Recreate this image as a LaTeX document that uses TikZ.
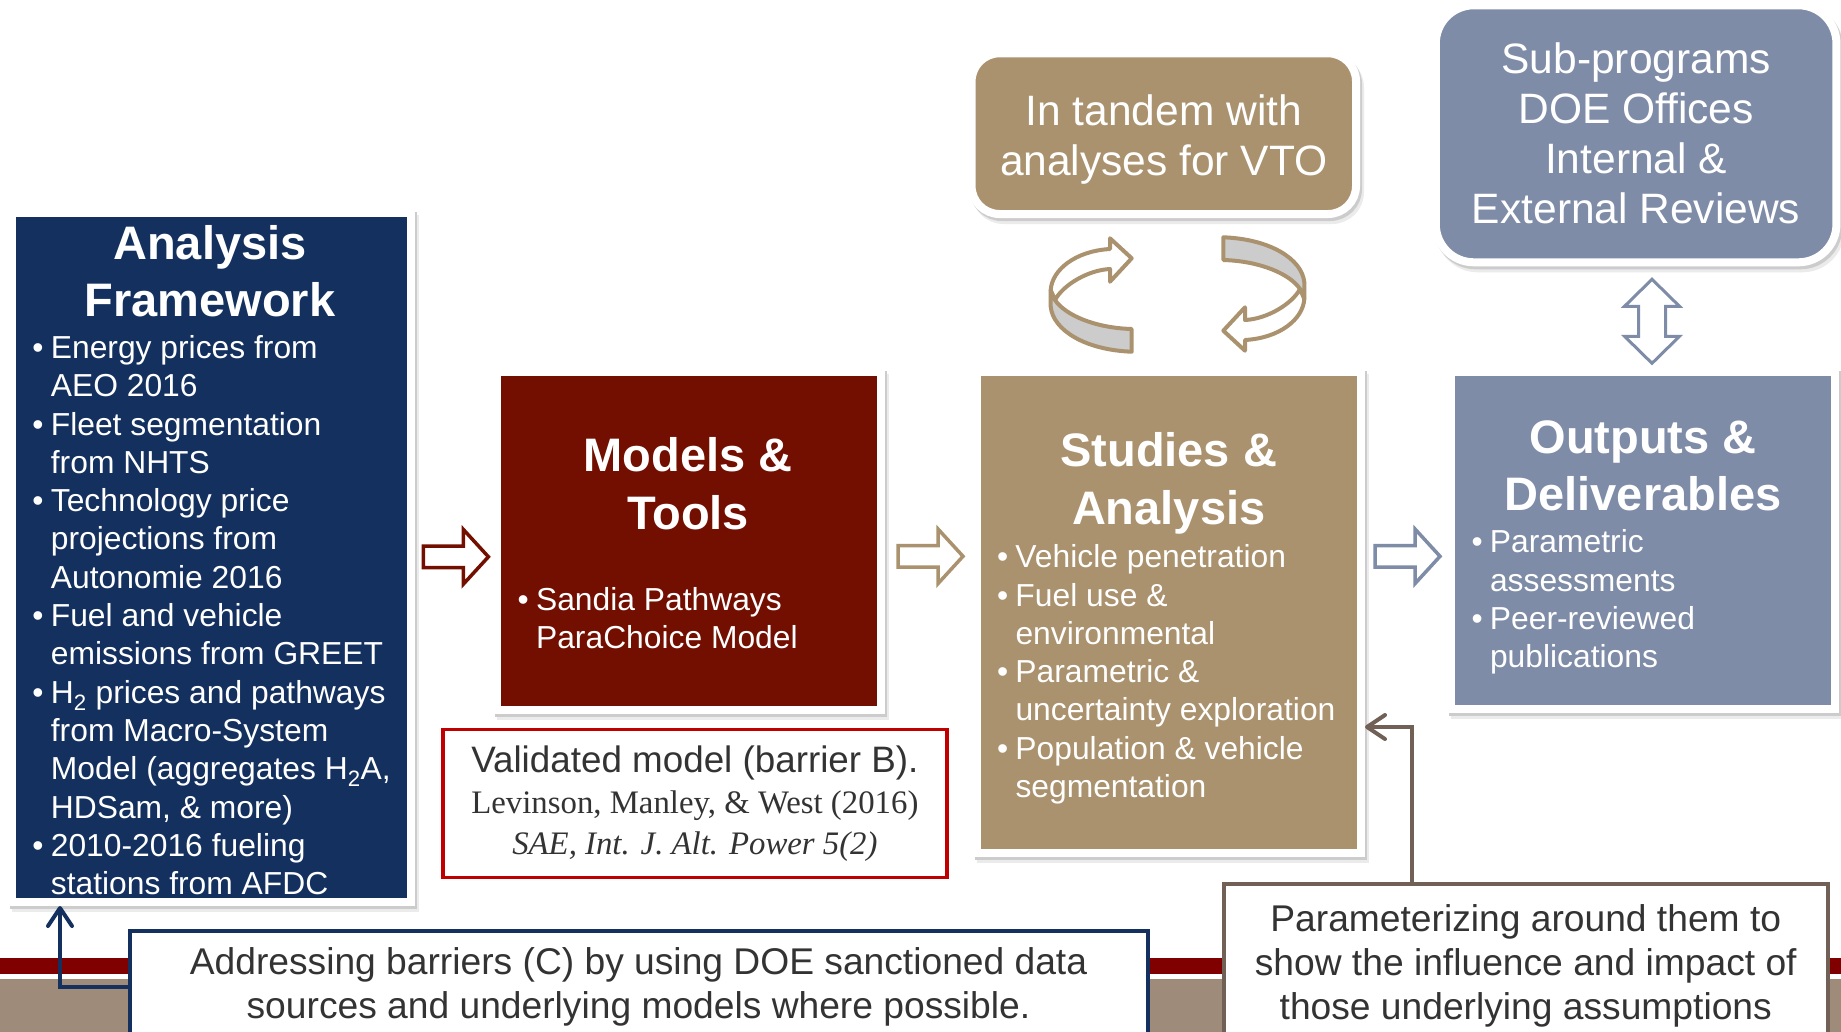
\documentclass[tikz,border=0pt]{standalone}
\usepackage{fontspec}
\setmainfont{Liberation Sans}
\newfontfamily\citefont{Liberation Serif}
\usetikzlibrary{arrows.meta}
\definecolor{DoeNavy}{RGB}{19,48,94}
\definecolor{ModelRed}{RGB}{115,15,0}
\definecolor{StudyTan}{RGB}{170,146,110}
\definecolor{OutSlate}{RGB}{127,140,167}
\definecolor{CiteRed}{RGB}{192,0,0}
\definecolor{BandRed}{RGB}{128,0,0}
\definecolor{BandTan}{RGB}{158,139,122}
\definecolor{NoteBrown}{RGB}{112,96,86}
\definecolor{TextGray}{RGB}{51,51,51}
\definecolor{RibbonGray}{RGB}{204,204,204}

\newcommand{\bul}{\makebox[16pt][l]{\hspace*{-2.5pt}\textbullet}}
\newcommand{\ind}{\makebox[16pt]{}}

\tikzset{
  pics/hollowright/.style={code={
    \draw[draw=#1, fill=white, line width=3.5pt]
      (-33,-10.75) -- (7,-10.75) -- (7,-27.3) -- (32,0) -- (7,27.3) -- (7,10.75) -- (-33,10.75) -- cycle;
  }},
  pics/hollowupdown/.style={code={
    \draw[draw=#1, fill=white, line width=3pt]
      (0,-42) -- (27.5,-15) -- (13.5,-15) -- (13.5,15) -- (27.5,15) -- (0,42)
      -- (-27.5,15) -- (-13.5,15) -- (-13.5,-15) -- (-27.5,-15) -- cycle;
  }},
  pics/cyclearrow/.style={code={
    % inner face of the ribbon
    \draw[draw=StudyTan, fill=RibbonGray, line width=4pt, line join=round]
      (-126.8,-4.5) -- (-126.8,12.2) .. controls (-124.5,35.5) and (-92.5,55.5) .. (-45.8,57.2)
      -- (-45.8,34.5) .. controls (-82.5,33.5) and (-112.5,20.5) .. (-122.5,5.5) -- cycle;
    % outer face with the head
    \draw[draw=StudyTan, fill=white, line width=4pt, line join=round]
      (-126.8,-4.5) .. controls (-125.5,-24.5) and (-102.5,-43.5) .. (-67.5,-45.5)
      -- (-67.5,-56.2) -- (-45.8,-36.2) -- (-67.5,-12.8) -- (-67.5,-25.5)
      .. controls (-89.5,-24.5) and (-114.5,-9.5) .. (-122.5,5.5) -- cycle;
  }}
}

\begin{document}
\begin{tikzpicture}[x=1pt, y=-1pt,
    whiteframe/.style={draw=white, line width=8pt, inner sep=0pt,
      preaction={draw=black!8, line width=8pt, transform canvas={shift={(4pt,-6pt)}}},
      preaction={draw=black!20, line width=8pt, transform canvas={shift={(2pt,-3pt)}}}},
    stepbox/.style={whiteframe, rectangle, minimum width=384.5pt, minimum height=337.5pt},
    roundbox/.style={whiteframe, rectangle, text=white, align=center, font=\fontsize{42.5}{50}\selectfont},
    boxtitle/.style={anchor=base, align=center, text=white, inner sep=0pt, font=\bfseries\fontsize{47}{57.5}\selectfont},
    bulletlist/.style={anchor=base west, align=left, text=white, inner sep=0pt, font=\fontsize{31.8}{38.3}\selectfont},
    note/.style={rectangle, fill=white, line width=4pt, inner sep=0pt, align=center, text=TextGray, font=\fontsize{37.2}{44}\selectfont},
    elbow/.style={line width=4pt, -{Straight Barb[length=18pt, width=24pt, round]}}
  ]
    \useasboundingbox (0,0) rectangle (1841,1031);
    \clip (0,0) rectangle (1841,1031);
    \fill[white] (0,0) rectangle (1841,1031);

    % footer band
    \fill[BandRed] (0,957.7) rectangle (1841,974);
    \fill[BandTan] (0,979) rectangle (1841,1040);

    % main boxes
    \node[whiteframe, fill=DoeNavy, minimum width=399pt, minimum height=689pt] (af) at (211.5,557.5) {};
    \node[stepbox, fill=ModelRed] (mt) at (689,540.9) {};
    \node[stepbox, fill=StudyTan, minimum height=481pt] (sa) at (1168.75,612.5) {};
    \node[stepbox, fill=OutSlate] (od) at (1642.75,540.5) {};

    \node[roundbox, fill=StudyTan, minimum width=384.4pt, minimum height=160.7pt, rounded corners=28pt] (vto) at (1163.8,133.65)
      {\rule{0pt}{42pt}In tandem with\\analyses for VTO};
    \node[roundbox, fill=OutSlate, minimum width=400.6pt, minimum height=257pt, rounded corners=38pt] (doe) at (1636.1,133.8)
      {Sub-programs\\DOE Offices\\Internal \&\\External Reviews};

    % box contents (base = last line)
    \node[boxtitle] (aftitle) at (210,316.5) {Analysis\\Framework};
    \node[bulletlist] (aflist) at (34.7,894.6) {\bul Energy prices from\\\ind AEO 2016\\
      \bul Fleet segmentation\\\ind from NHTS\\
      \bul Technology price\\\ind projections from\\\ind Autonomie 2016\\
      \bul Fuel and vehicle\\\ind emissions from GREET\\
      \bul H\textsubscript{2} prices and pathways\\\ind from Macro-System\\\ind Model (aggregates H\textsubscript{2}A,\\\ind HDSam, \& more)\\
      \bul 2010-2016 fueling\\\ind stations from AFDC};

    \node[boxtitle] (mttitle) at (688,529) {Models \&\\Tools};
    \node[bulletlist] (mtlist) at (519.9,648.6) {\bul Sandia Pathways\\\ind ParaChoice Model};

    \node[boxtitle] (satitle) at (1168.7,524) {Studies \&\\Analysis};
    \node[bulletlist] (salist) at (999.3,797.5) {\bul Vehicle penetration\\
      \bul Fuel use \&\\\ind environmental\\
      \bul Parametric \&\\\ind uncertainty exploration\\
      \bul Population \& vehicle\\\ind segmentation};

    \node[boxtitle] (odtitle) at (1643,510.5) {Outputs \&\\Deliverables};
    \node[bulletlist] (odlist) at (1473.8,667.6) {\bul Parametric\\\ind assessments\\
      \bul Peer-reviewed\\\ind publications};

    \node[rectangle, draw=CiteRed, line width=3.5pt, fill=white, minimum width=503.7pt, minimum height=147.8pt,
      inner sep=0pt, align=center, text=TextGray, font=\fontsize{36.8}{41}\selectfont] (cite) at (694.9,803.4)
      {Validated model (barrier B).\\
       {\citefont\fontsize{32.8}{41}\selectfont Levinson, Manley, \& West (2016)}\\
       {\citefont\itshape\fontsize{32.8}{41}\selectfont SAE, Int. J. Alt. Power 5(2)}};

    % callouts
    \node[note, draw=DoeNavy, minimum width=1018pt, minimum height=112pt] (barrier) at (638.5,987)
      {Addressing barriers (C) by using DOE sanctioned data\\sources and underlying models where possible.};
    \node[note, draw=NoteBrown, minimum width=604.5pt, minimum height=163.4pt] (param) at (1525.75,965.7)
      {Parameterizing around them to\\show the influence and impact of\\those underlying assumptions};

    % block arrows
    \pic at (456.4,556.8) {hollowright=ModelRed};
    \pic at (931,556.3) {hollowright=StudyTan};
    \pic at (1408,556.3) {hollowright=OutSlate};
    \pic at (1652,321.3) {hollowupdown=OutSlate};

    % cycle arrows
    \pic at (1177.5,294.5) {cyclearrow};
    \pic[rotate=180] at (1177.5,294.5) {cyclearrow};

    % connectors
    \draw[elbow, DoeNavy] (barrier.west) -| ([xshift=52pt]af.south west);
    \draw[elbow, NoteBrown] ([xshift=190.5pt]param.north west) |- ([yshift=-114.5pt]sa.east);
\end{tikzpicture}
\end{document}
